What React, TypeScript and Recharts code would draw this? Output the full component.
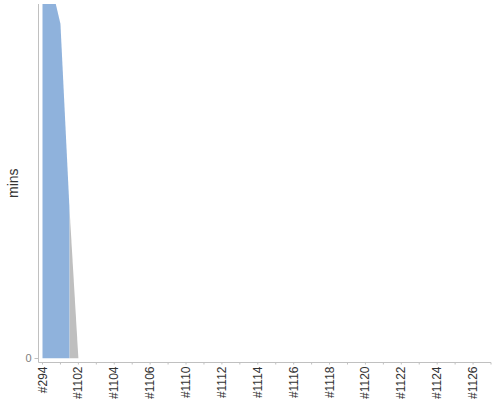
import { AreaChart, Area, XAxis, YAxis } from 'recharts';

// build labels along the bottom, one per category slot
const builds = [
  '#294', '#1101', '#1102', '#1103', '#1104', '#1105', '#1106', '#1108',
  '#1110', '#1111', '#1112', '#1113', '#1114', '#1115', '#1116', '#1117',
  '#1118', '#1119', '#1120', '#1121', '#1122', '#1123', '#1124', '#1125',
  '#1126', '#1127'
];

// successful build time (blue), positions in build-slot units
const blueAt = [0, 1, 1.5, 1.5];
const blueMins = [116, 94.4, 42.7, 0];

// aborted build time (grey)
const greyAt = [1.5, 2];
const greyMins = [42.7, 0];

const yTicks = [0];

type Row = { i: number; blue?: number | null; grey?: number | null };

const rows: Row[] = [];
blueAt.forEach((at, k) => rows.push({ i: at, blue: blueMins[k], grey: null }));
greyAt.forEach((at, k) => {
  const same = rows.find((r) => r.i === at && r.grey == null && r.blue != null && r.blue === greyMins[k]);
  if (same) same.grey = greyMins[k];
  else rows.push({ i: at, blue: null, grey: greyMins[k] });
});
rows.sort((a, b) => a.i - b.i);

const BuildTick = (props: any) => {
  const { x, y, payload } = props;
  const k = payload.value as number;
  if (k % 2 !== 0) return <g />;
  return (
    <text
      x={x}
      y={y}
      transform={`rotate(-90 ${x} ${y})`}
      textAnchor="end"
      dominantBaseline="central"
      fontSize={12}
      fill="#333"
    >
      {builds[k]}
    </text>
  );
};

const App = () => (
  <div style={{ position: 'absolute', left: 0, top: 0, width: 500, height: 400, background: '#fff' }}>
    <AreaChart
      width={500}
      height={400}
      data={rows}
      margin={{ top: 4, right: 9, left: 0, bottom: 0 }}
      style={{ fontFamily: '"Liberation Sans", Arial, sans-serif' }}
    >
      <XAxis
        type="number"
        dataKey="i"
        domain={[0, builds.length - 1]}
        ticks={builds.map((_, k) => k)}
        interval={0}
        height={37.5}
        padding={{ left: 4 }}
        tickSize={2}
        tickMargin={2}
        stroke="#c0c0c0"
        tick={<BuildTick />}
      />
      <YAxis
        type="number"
        domain={[0, 100]}
        allowDataOverflow
        ticks={yTicks}
        width={38.5}
        padding={{ bottom: 4 }}
        tickSize={4}
        tickMargin={3}
        stroke="#c0c0c0"
        tick={{ fill: '#808080', fontSize: 11 }}
        label={{
          value: 'mins',
          angle: -90,
          position: 'insideLeft',
          offset: 13.5,
          style: { textAnchor: 'middle', fill: '#333', fontSize: 14 }
        }}
      />
      <Area
        type="linear"
        dataKey="grey"
        stroke="none"
        fill="#bfbfbf"
        fillOpacity={1}
        connectNulls
        dot={false}
        activeDot={false}
        isAnimationActive={false}
      />
      <Area
        type="linear"
        dataKey="blue"
        stroke="none"
        fill="#8fb2dc"
        fillOpacity={1}
        dot={false}
        activeDot={false}
        isAnimationActive={false}
      />
    </AreaChart>
  </div>
);

export default App;
